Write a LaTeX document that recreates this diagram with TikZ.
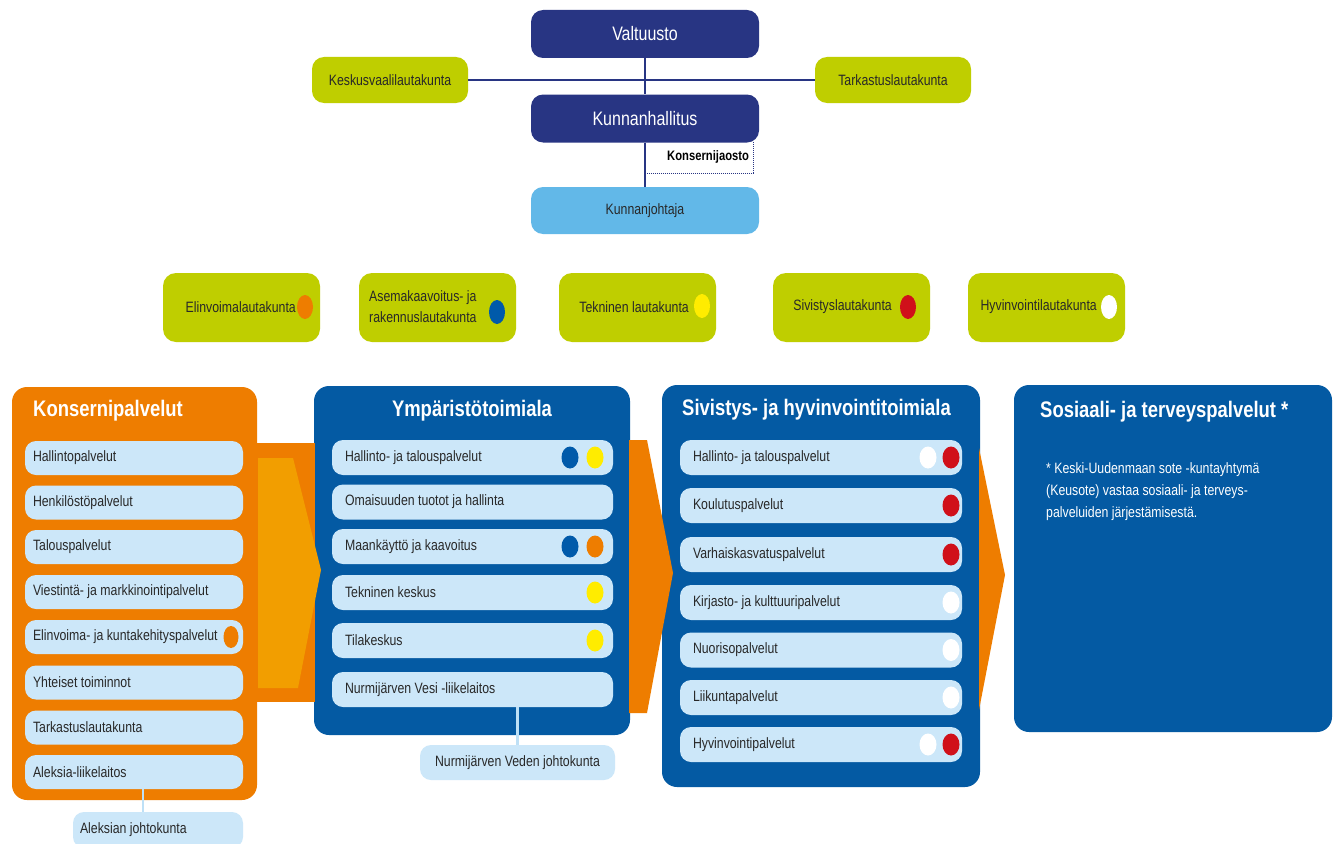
\documentclass[tikz,border=0pt]{standalone}
\usepackage{fontspec}
\setmainfont[FakeStretch=0.82]{Liberation Sans}
\usetikzlibrary{shapes.geometric,calc}
\definecolor{navy}{RGB}{40,53,131}
\definecolor{lime}{RGB}{191,206,0}
\definecolor{skyb}{RGB}{98,184,232}
\definecolor{colblue}{RGB}{4,90,163}
\definecolor{orng}{RGB}{238,125,0}
\definecolor{lorng}{RGB}{242,158,0}
\definecolor{itemb}{RGB}{204,231,249}
\definecolor{linkb}{RGB}{190,224,246}
\definecolor{dotblue}{RGB}{0,90,170}
\definecolor{dotyel}{RGB}{255,236,0}
\definecolor{dotred}{RGB}{208,16,26}
\definecolor{txt}{RGB}{40,40,40}
\begin{document}
\begin{tikzpicture}[x=1pt,y=-1pt,
  small/.style={font=\fontsize{15}{21}\selectfont, text=txt, inner sep=0pt},
  navybox/.style={fill=navy, rounded corners=12pt, minimum width=228pt, minimum height=48pt, text=white, font=\fontsize{19.5}{22}\selectfont, inner sep=0pt},
  skybox/.style={fill=skyb, rounded corners=12pt, minimum width=228pt, minimum height=47pt, text=txt, font=\fontsize{15}{18}\selectfont, inner sep=0pt},
  limebox/.style={fill=lime, rounded corners=12pt, minimum width=156pt, minimum height=46pt, text=txt, font=\fontsize{15}{18}\selectfont, inner sep=0pt},
  lautabox/.style={fill=lime, rounded corners=13pt, minimum width=157pt, minimum height=69pt, inner sep=0pt},
  navyline/.style={draw=navy, line width=1.8pt},
  linkline/.style={draw=linkb, line width=2.5pt},
  colbox/.style={rounded corners=15pt, inner sep=0pt},
  coltitle/.style={font=\bfseries\fontsize{22.5}{26}\selectfont, text=white, inner sep=0pt},
  itembox/.style={fill=itemb, rounded corners=11pt, minimum height=34pt, text=txt, font=\fontsize{15}{18}\selectfont, align=flush left, inner ysep=0pt},
  kitem/.style={itembox, inner xsep=8pt, text width=202pt},
  yitem/.style={itembox, inner xsep=13pt, text width=255pt, minimum height=35pt},
  sitem/.style={itembox, inner xsep=13pt, text width=256pt, minimum height=35pt},
  dotn/.style={ellipse, inner sep=0pt, minimum width=17pt, minimum height=22pt},
  ldot/.style={ellipse, inner sep=0pt, minimum width=16pt, minimum height=24pt}
]
\useasboundingbox (0,0) rectangle (1338,843);
\clip (0,0) rectangle (1338,843);
\fill[white] (0,0) rectangle (1338,843);

% ---------- top ----------
\node[navybox] (val) at (645,34) {Valtuusto};
\node[navybox] (kh) at (645,118.5) {Kunnanhallitus};
\node[limebox] (kvl) at (390,80) {Keskusvaalilautakunta};
\node[limebox] (tark) at (893,80) {Tarkastuslautakunta};
\node[skybox] (kj) at (645,210.5) {Kunnanjohtaja};
\draw[navyline] (kvl.east) -- (tark.west);
\draw[navyline] (val.south) -- (kh.north);
\draw[navyline] (kh.south) -- (kj.north);
\node[font=\bfseries\fontsize{13.7}{16}\selectfont, text=black, inner sep=0pt, anchor=west] (kjaos) at (667,157) {Konsernijaosto};
\coordinate (kjA) at (753,142);
\coordinate (kjB) at (753,173);
\coordinate (kjC) at (645,173);
\draw[navy, densely dotted, line width=1pt] (kjA) -- (kjB) -- (kjC);

% ---------- lautakunnat ----------
\node[lautabox] (l1) at (241.5,307.5) {};
\node[small, anchor=east] (l1t) at (296,307) {Elinvoimalautakunta};
\node[ldot, fill=orng] (l1d) at (305,307) {};
\node[lautabox] (l2) at (437.5,307.5) {};
\node[small, anchor=west, align=flush left] (l2t) at (369,307) {Asemakaavoitus- ja\\rakennuslautakunta};
\node[ldot, fill=dotblue] (l2d) at (497,312) {};
\node[lautabox] (l3) at (637.5,307.5) {};
\node[small, anchor=east] (l3t) at (689,307) {Tekninen lautakunta};
\node[ldot, fill=dotyel] (l3d) at (702,306) {};
\node[lautabox] (l4) at (851.5,307.5) {};
\node[small, anchor=east] (l4t) at (892,307) {Sivistyslautakunta};
\node[ldot, fill=dotred] (l4d) at (908,307) {};
\node[lautabox] (l5) at (1046.5,307.5) {};
\node[small, anchor=east] (l5t) at (1097,307) {Hyvinvointilautakunta};
\node[ldot, fill=white] (l5d) at (1109,307) {};

% ---------- columns ----------
\node[colbox, fill=orng, minimum width=245pt, minimum height=413pt] (kp) at (134.5,593.5) {};
\node[colbox, fill=colblue, minimum width=316pt, minimum height=349pt] (yp) at (472,560.5) {};
\node[colbox, fill=colblue, minimum width=318pt, minimum height=402pt] (sv) at (821,586) {};
\node[colbox, fill=colblue, minimum width=318pt, minimum height=347pt] (so) at (1173,558.5) {};

% orange bands
\fill[orng] (255,443) rectangle (315,702);
\fill[lorng] (258,458) -- (293,458) -- (321,570) -- (298,688) -- (258,688) -- cycle;
\fill[orng] (629,440) -- (647,440) -- (673,573) -- (647,713) -- (629,713) -- cycle;
\fill[orng] (979,448) -- (1005,575) -- (979,710) -- cycle;

% titles
\node[coltitle, anchor=west] (kpt) at (33,411) {Konsernipalvelut};
\node[coltitle] (ypt) at (472,411) {Ympäristötoimiala};
\node[coltitle, anchor=west] (svt) at (682,410) {Sivistys- ja hyvinvointitoimiala};
\node[coltitle, anchor=west] (sot) at (1040,412) {Sosiaali- ja terveyspalvelut *};

% Konsernipalvelut items
\node[kitem] (k1) at (134,458) {Hallintopalvelut};
\node[kitem] (k2) at (134,502.5) {Henkilöstöpalvelut};
\node[kitem] (k3) at (134,547) {Talouspalvelut};
\node[kitem] (k4) at (134,592) {Viestintä- ja markkinointipalvelut};
\node[kitem] (k5) at (134,637) {Elinvoima- ja kuntakehityspalvelut};
\node[dotn, fill=orng, minimum width=15pt] (k5d) at (231,637) {};
\node[kitem] (k6) at (134,682.5) {Yhteiset toiminnot};
\node[kitem] (k7) at (134,727.5) {Tarkastuslautakunta};
\node[kitem] (k8) at (134,772) {Aleksia-liikelaitos};
\node[kitem, inner xsep=7pt, text width=156pt, minimum height=36pt] (alj) at (158,830) {Aleksian johtokunta};
\draw[linkline] ([xshift=9pt]k8.south) -- ([xshift=9pt]k8.south |- alj.north);

% Ympäristötoimiala items
\node[yitem] (y1) at (472.5,457.5) {Hallinto- ja talouspalvelut};
\node[dotn, fill=dotblue] (y1a) at (570,457.5) {};
\node[dotn, fill=dotyel] (y1b) at (595,457.5) {};
\node[yitem] (y2) at (472.5,502) {Omaisuuden tuotot ja hallinta};
\node[yitem] (y3) at (472.5,546.5) {Maankäyttö ja kaavoitus};
\node[dotn, fill=dotblue] (y3a) at (570,546.5) {};
\node[dotn, fill=orng] (y3b) at (595,546.5) {};
\node[yitem] (y4) at (472.5,592.5) {Tekninen keskus};
\node[dotn, fill=dotyel] (y4b) at (595,592.5) {};
\node[yitem] (y5) at (472.5,640.5) {Tilakeskus};
\node[dotn, fill=dotyel] (y5b) at (595,640.5) {};
\node[yitem] (y6) at (472.5,689.5) {Nurmijärven Vesi -liikelaitos};
\node[itembox, align=center, minimum width=195pt, minimum height=35pt, inner sep=0pt] (nvj) at (517.5,762.5) {Nurmijärven Veden johtokunta};
\draw[linkline] (nvj.north) -- (nvj.north |- y6.south);

% Sivistys items
\node[sitem] (s1) at (821,457.5) {Hallinto- ja talouspalvelut};
\node[dotn, fill=white] (s1a) at (928,457.5) {};
\node[dotn, fill=dotred] (s1b) at (951,457.5) {};
\node[sitem] (s2) at (821,505.5) {Koulutuspalvelut};
\node[dotn, fill=dotred] (s2b) at (951,505.5) {};
\node[sitem] (s3) at (821,554.5) {Varhaiskasvatuspalvelut};
\node[dotn, fill=dotred] (s3b) at (951,554.5) {};
\node[sitem] (s4) at (821,602.5) {Kirjasto- ja kulttuuripalvelut};
\node[dotn, fill=white] (s4b) at (951,602.5) {};
\node[sitem] (s5) at (821,650) {Nuorisopalvelut};
\node[dotn, fill=white] (s5b) at (951,650) {};
\node[sitem] (s6) at (821,697.5) {Liikuntapalvelut};
\node[dotn, fill=white] (s6b) at (951,697.5) {};
\node[sitem] (s7) at (821,744.5) {Hyvinvointipalvelut};
\node[dotn, fill=white] (s7a) at (928,744.5) {};
\node[dotn, fill=dotred] (s7b) at (951,744.5) {};

% Sosiaali text
\node[font=\fontsize{15}{22}\selectfont, text=white, align=flush left, inner sep=0pt, anchor=north west] (sotx) at (1046,462) {* Keski-Uudenmaan sote -kuntayhtymä\\(Keusote) vastaa sosiaali- ja terveys-\\palveluiden järjestämisestä.};
\end{tikzpicture}
\end{document}
